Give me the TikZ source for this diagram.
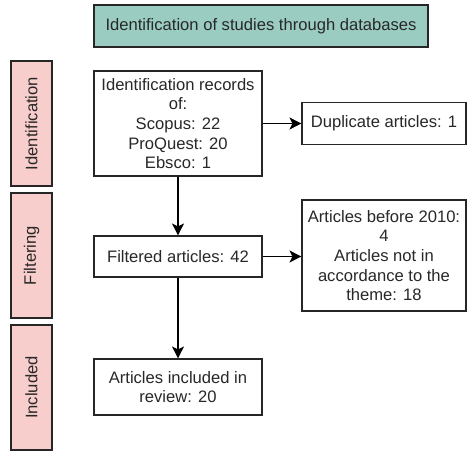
\documentclass[tikz,border=0pt]{standalone}
\usepackage{fontspec}
\setmainfont{Liberation Sans}
\usetikzlibrary{arrows.meta}
\definecolor{teal1}{RGB}{154,204,193}
\definecolor{pink1}{RGB}{248,206,204}
\definecolor{txt}{RGB}{40,40,40}
\begin{document}
\begin{tikzpicture}[x=1pt,y=-1pt,
  every node/.style={font=\fontsize{16.6}{19.7}\selectfont, text=txt, align=center, inner sep=0pt},
  flowbox/.style={draw=black!85, line width=1.1pt, fill=white},
  phase/.style={draw=black!85, line width=1.1pt, fill=pink1, rotate=90, minimum width=125pt, minimum height=41pt},
  conn/.style={line width=1.2pt, -{Stealth[length=12pt,width=12pt,inset=3pt]}}]
\useasboundingbox (0,0) rectangle (467,452);
\node[flowbox, fill=teal1, minimum width=334pt, minimum height=42pt] (top) at (261,26) {Identification of studies through databases};
\node[phase] (idlab) at (31.5,123.5) {Identification};
\node[phase] (filtlab) at (31.5,255.5) {Filtering};
\node[phase] (inclab) at (31.5,387.5) {Included};
\node[flowbox, minimum width=168pt, minimum height=105pt] (rec) at (178,123.5) {Identification records\\of:\\Scopus: 22\\ProQuest: 20\\Ebsco: 1};
\node[flowbox, minimum width=164pt, minimum height=42pt] (dup) at (384,123.5) {Duplicate articles: 1};
\node[flowbox, minimum width=168pt, minimum height=41pt] (filt) at (178,256.5) {Filtered articles: 42};
\node[flowbox, minimum width=164pt, minimum height=111pt] (before) at (384,255.5) {Articles before 2010:\\4\\Articles not in\\accordance to the\\theme: 18};
\node[flowbox, minimum width=168pt, minimum height=56pt] (incl) at (178,387) {Articles included in\\review: 20};
\draw[conn] (rec) -- (dup);
\draw[conn] (rec) -- (filt);
\draw[conn] (filt.east) -- (filt.east -| before.west);
\draw[conn] (filt) -- (incl);
\end{tikzpicture}
\end{document}
